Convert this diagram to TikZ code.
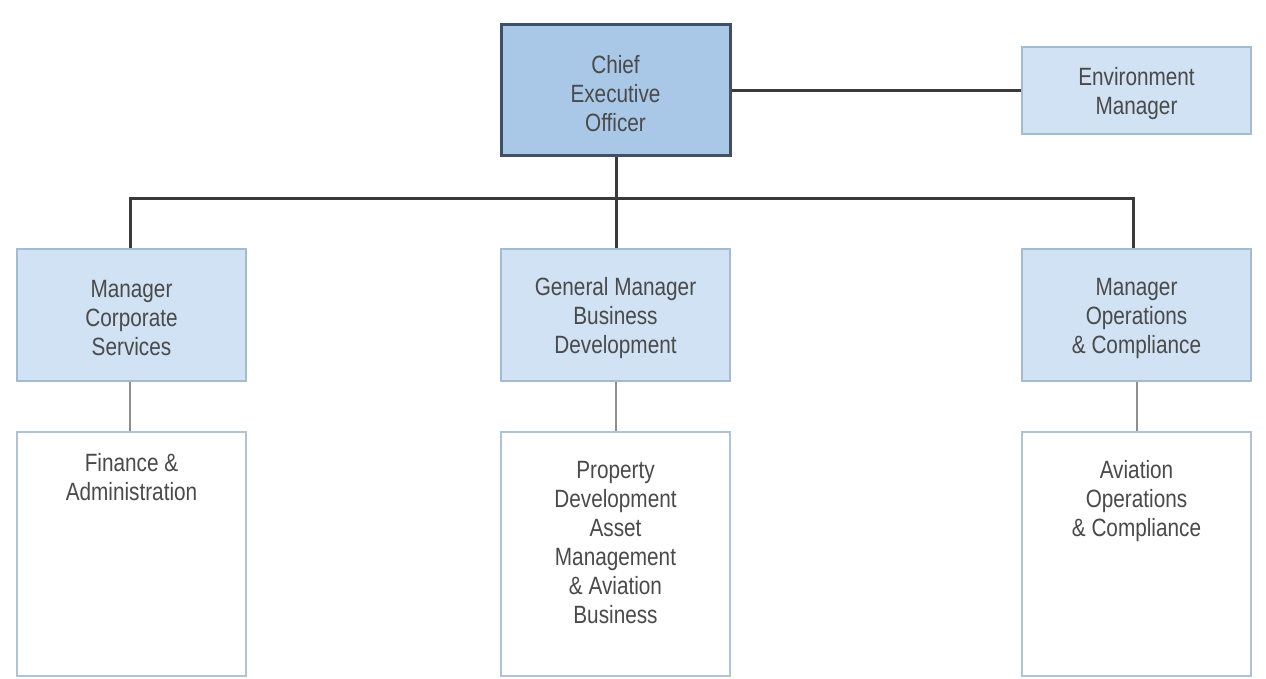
\documentclass[tikz,border=0pt]{standalone}
\usepackage{fontspec}
\setmainfont[FakeStretch=0.83]{Liberation Sans}
\definecolor{ceofill}{HTML}{A9C8E7}
\definecolor{ceoedge}{HTML}{3E5166}
\definecolor{mgrfill}{HTML}{D0E2F3}
\definecolor{mgredge}{HTML}{A3BBD3}
\definecolor{unitedge}{HTML}{AEC2D8}
\definecolor{txt}{HTML}{4A4A4A}
\definecolor{bus}{HTML}{3A3A3A}
\definecolor{thin}{HTML}{8E8E8E}
\newcommand\tpush{\rule{0pt}{12pt}}
\begin{document}
\begin{tikzpicture}[x=0.5pt,y=-0.5pt,
  boxbase/.style={rectangle, minimum width=114.5pt, inner sep=0pt, text=txt,
    align=center, font=\fontsize{12.5}{14.5}\selectfont},
  ceobox/.style={boxbase, fill=ceofill, draw=ceoedge, line width=1.5pt, minimum height=65.5pt},
  envbox/.style={boxbase, fill=mgrfill, draw=mgredge, line width=1pt, minimum height=43.5pt},
  mgrbox/.style={boxbase, fill=mgrfill, draw=mgredge, line width=1pt, minimum height=66pt},
  unitbox/.style={boxbase, fill=white, draw=unitedge, line width=1pt, minimum height=122pt},
  unittext/.style={text=txt, align=center, inner sep=0pt, anchor=north,
    font=\fontsize{12.5}{14.5}\selectfont},
  busline/.style={draw=bus, line width=1.5pt},
  thinline/.style={draw=thin, line width=0.75pt}
]
\useasboundingbox[fill=white] (0,0) rectangle (1266,679);

% boxes
\node[ceobox] (ceo) at (615.5,90.5) {\tpush Chief\\Executive\\Officer};
\node[envbox] (env) at (1136.5,90.5) {\tpush Environment\\Manager};
\node[mgrbox] (mcs) at (131.5,315) {\tpush Manager\\Corporate\\Services};
\node[mgrbox] (gmb) at (615.5,315) {\tpush General Manager\\Business\\Development};
\node[mgrbox] (moc) at (1136.5,315) {\tpush Manager\\Operations\\\& Compliance};
\node[unitbox] (ufa) at (131.5,554) {};
\node[unitbox] (upd) at (615.5,554) {};
\node[unitbox] (uav) at (1136.5,554) {};

\node[unittext] (tfa) at (131.5,453) {Finance \&\\Administration};
\node[unittext] (tpd) at (615.5,461) {Property\\Development\\Asset\\Management\\\& Aviation\\Business};
\node[unittext] (tav) at (1136.5,460) {Aviation\\Operations\\\& Compliance};

% connectors
\coordinate (busmid) at (616,199);
\coordinate (busl) at (130,199);
\coordinate (busr) at (1133,199);
\draw[busline] (ceo.east) -- (env.west);
\draw[busline] (ceo.south -| busmid) -- (gmb.north -| busmid);
\draw[busline, line cap=rect] (busl) -- (busr);
\draw[busline] (busl) -- (mcs.north -| busl);
\draw[busline] (busr) -- (moc.north -| busr);
\draw[thinline] (mcs.south -| busl) -- (ufa.north -| busl);
\draw[thinline] (gmb.south -| busmid) -- (upd.north -| busmid);
\draw[thinline] (moc.south -| 1137,0) -- (uav.north -| 1137,0);
\end{tikzpicture}
\end{document}
